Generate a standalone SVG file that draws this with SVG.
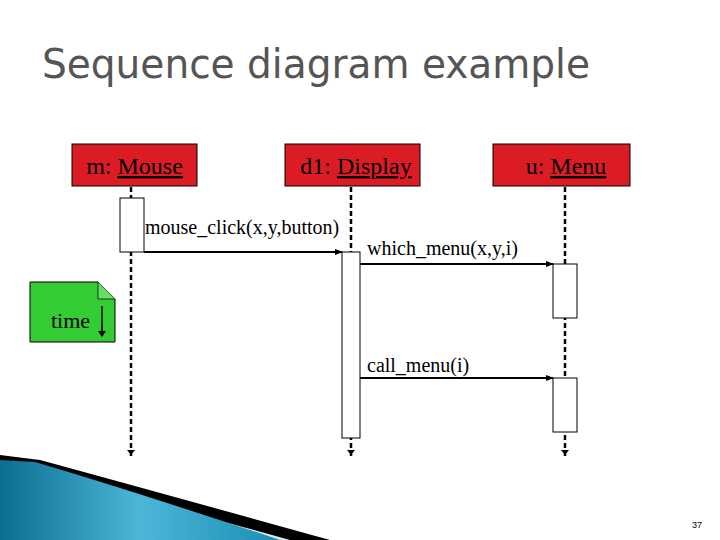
<svg xmlns="http://www.w3.org/2000/svg" width="720" height="540" viewBox="0 0 720 540">
<defs>
<style>
.box{fill:#dc1c24;stroke:#000;stroke-width:1}
.lbl{font-family:"Liberation Serif",serif;font-size:24px;fill:#000}
.msg{font-family:"Liberation Serif",serif;font-size:20px;fill:#000}
.life{stroke:#000;stroke-width:2.5;stroke-dasharray:5,3;fill:none}
.act{fill:#fff;stroke:#000;stroke-width:1}
.arr{stroke:#000;stroke-width:2;fill:none;marker-end:url(#ah)}
</style>
<marker id="ah" markerWidth="8" markerHeight="8" refX="7" refY="4" orient="auto" markerUnits="userSpaceOnUse"><path d="M0,1 L8,4 L0,7 Z" fill="#000"/></marker>
<linearGradient id="sw" x1="0" y1="0" x2="1" y2="0"><stop offset="0" stop-color="#0b6e92"/><stop offset="0.5" stop-color="#4cb6d8"/><stop offset="1" stop-color="#1a8fb5"/></linearGradient>
</defs>
<rect width="720" height="540" fill="#fff"/>
<path d="M0,455 Q150,490 330,540 L0,540 Z" fill="#d8e8ef"/>
<path d="M0,455 L40,460 Q150,490 330,540 L290,540 Q150,500 0,470 Z" fill="#000"/>
<path d="M0,460 L35,462 Q130,490 280,540 L0,540 Z" fill="url(#sw)"/>
<text x="42" y="78" font-family="'DejaVu Sans',sans-serif" font-size="40" fill="#555" textLength="548" lengthAdjust="spacingAndGlyphs">Sequence diagram example</text>
<g id="connectors">
<line class="life" x1="131" y1="187" x2="131" y2="458"/>
<line class="life" x1="351" y1="187" x2="351" y2="458"/>
<line class="life" x1="565" y1="187" x2="565" y2="458"/>
<path d="M131,455 l-4,-5 h8 Z M351,455 l-4,-5 h8 Z M565,455 l-4,-5 h8 Z" fill="#000"/>
<line class="arr" x1="144" y1="252" x2="342" y2="252"/>
<line class="arr" x1="360" y1="264" x2="553" y2="264"/>
<line class="arr" x1="360" y1="378" x2="553" y2="378"/>
<text class="msg" x="145" y="234">mouse_click(x,y,button)</text>
<text class="msg" x="367" y="255">which_menu(x,y,i)</text>
<text class="msg" x="367" y="372">call_menu(i)</text>
</g>
<g id="mouse"><rect class="box" x="72" y="144" width="125" height="42"/><text class="lbl" x="134.5" y="174" text-anchor="middle">m: <tspan text-decoration="underline">Mouse</tspan></text>
<rect class="act" x="120" y="198" width="24" height="54"/></g>
<g id="display"><rect class="box" x="285" y="144" width="135" height="42"/><text class="lbl" x="356" y="174" text-anchor="middle">d1: <tspan text-decoration="underline">Display</tspan></text>
<rect class="act" x="342" y="252" width="18" height="186"/></g>
<g id="menu"><rect class="box" x="493" y="144" width="137" height="42"/><text class="lbl" x="566" y="174" text-anchor="middle">u: <tspan text-decoration="underline">Menu</tspan></text>
<rect class="act" x="553" y="264" width="24" height="54"/><rect class="act" x="553" y="378" width="24" height="54"/></g>
<g id="time"><path d="M30,282 H98 L115,299 V342 H30 Z" fill="#33cc33" stroke="#000"/><path d="M98,282 V299 H115" fill="#66dd66" stroke="#000" stroke-width="0.7"/>
<text x="51" y="328" font-family="'Liberation Serif',serif" font-size="22">time</text>
<line x1="102" y1="306" x2="102" y2="332" stroke="#000" stroke-width="1.5"/><path d="M98,331 L102,337 L106,331 Z"/></g>
<text x="697" y="528" font-family="'Liberation Sans',sans-serif" font-size="9" text-anchor="middle">37</text>
</svg>
